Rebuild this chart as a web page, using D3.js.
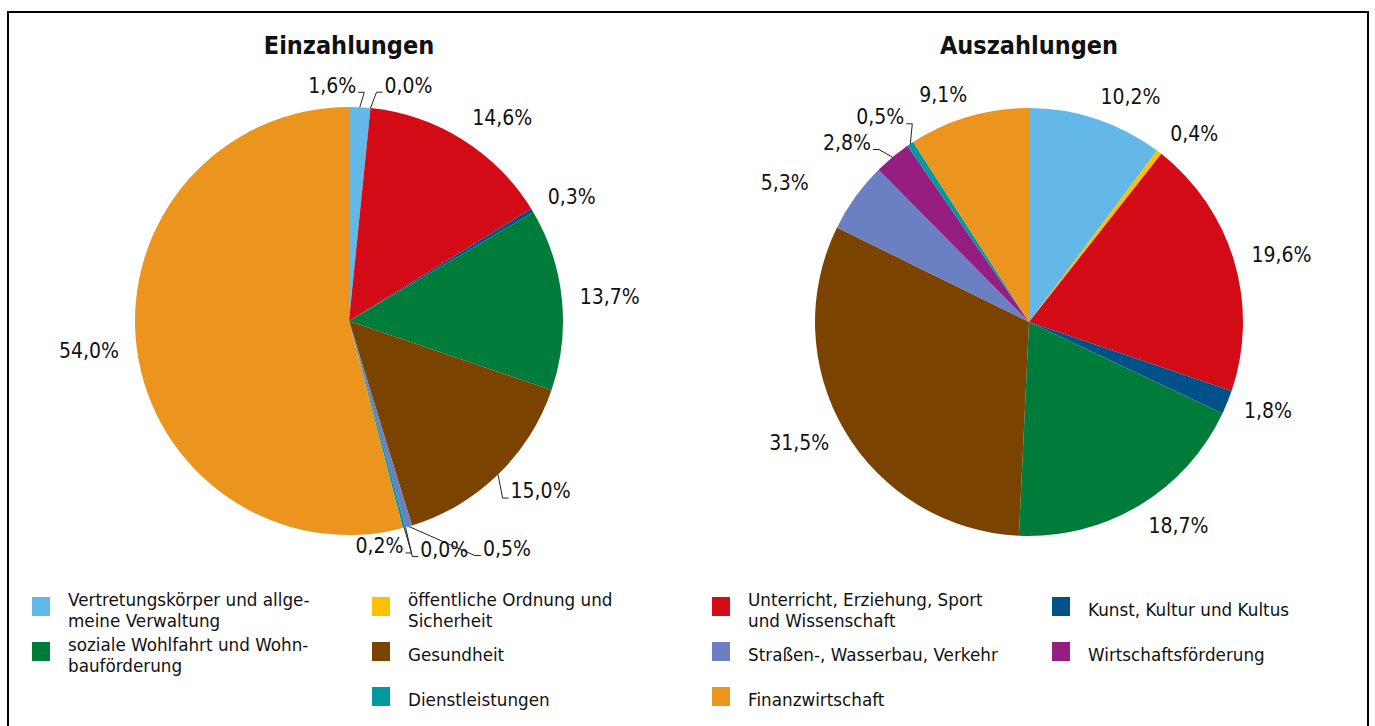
<!DOCTYPE html>
<html>
<head>
<meta charset="utf-8">
<script src="https://cdn.jsdelivr.net/npm/d3@7"></script>
<style>
  body { margin: 0; background: #fff; }
  svg { display: block; }
  .lbl { font-family: 'DejaVu Sans Condensed', 'DejaVu Sans', sans-serif; font-stretch: condensed; font-size: 21px; fill: #111; }
  .ttl { font-family: 'DejaVu Sans Condensed', 'DejaVu Sans', sans-serif; font-stretch: condensed; font-weight: bold; font-size: 25px; fill: #111; }
  .leg { font-family: 'DejaVu Sans', sans-serif; font-size: 16.8px; fill: #111; }
  .leader { fill: none; stroke: #222; stroke-width: 1; }
</style>
</head>
<body>
<svg id="chart" width="1375" height="726"></svg>
<script>
;(function () {
  // categories, clockwise from 12 o'clock (\n = line break in legend)
  var categories = [
    'Vertretungskörper und allge-\nmeine Verwaltung',
    'öffentliche Ordnung und\nSicherheit',
    'Unterricht, Erziehung, Sport\nund Wissenschaft',
    'Kunst, Kultur und Kultus',
    'soziale Wohlfahrt und Wohn-\nbauförderung',
    'Gesundheit',
    'Straßen-, Wasserbau, Verkehr',
    'Wirtschaftsförderung',
    'Dienstleistungen',
    'Finanzwirtschaft'
  ]
  var einzahlungen = [1.6, 0.0, 14.6, 0.3, 13.7, 15.0, 0.5, 0.0, 0.2, 54.0]
  var auszahlungen = [10.2, 0.4, 19.6, 1.8, 18.7, 31.5, 5.3, 2.8, 0.5, 9.1]
  var colors = ['#63b8e8', '#ffc000', '#d20b16', '#005189', '#007c3a',
                '#7a4400', '#6b80c2', '#941e81', '#0099a0', '#ec951e']

  // label nudges (px) and which labels get a leader line
  var einShift = {0: [-32, 1], 1: [29, 0], 2: [0, -3], 3: [0, -2], 6: [73, 0], 7: [15, 0], 8: [-48, -4]}
  var ausShift = {6: [-32, -1], 7: [-10, 3], 8: [4, -8]}
  var einLeader = [0, 1, 5, 6, 7, 8]
  var ausLeader = [7, 8]

  var svg = d3.select('#chart')
  var radius = 214
  var fmt = function (v) { return d3.format('.1f')(v).replace('.', ',') + '%' }

  svg.append('rect')
      .attr('x', 8).attr('y', 12)
      .attr('width', 1360).attr('height', 740)
      .attr('fill', 'none')
      .attr('stroke', '#000')
      .attr('stroke-width', 2)

  function drawPie (title, values, cx, cy, shift, leaders) {
    var g = svg.append('g').attr('transform', `translate(${cx},${cy})`)

    g.append('text')
        .attr('class', 'ttl')
        .attr('x', 0).attr('y', 45 - cy)
        .attr('dy', '0.35em')
        .attr('text-anchor', 'middle')
        .text(title)

    var pie = d3.pie().sort(null).value(d => d)
    var arcs = pie(values)
    var arc = d3.arc().innerRadius(0).outerRadius(radius)

    g.selectAll('path.slice')
        .data(arcs)
        .enter().append('path')
        .attr('class', 'slice')
        .attr('d', arc)
        .attr('fill', (d, i) => colors[i])

    arcs.forEach(function (d, i) {
      var a = (d.startAngle + d.endAngle) / 2
      var s = Math.sin(a), c = Math.cos(a)
      var pr = radius + 18
      var t = g.append('text')
          .attr('class', 'lbl')
          .attr('text-anchor', 'middle')
          .attr('dy', '0.35em')
          .text(fmt(d.data))
      var w = t.node().getBBox().width
      var k = Math.max(-1, Math.min(1, s * 3))
      var lx = pr * s + (w / 2) * k
      var ly = -pr * c - 5 * c
      if (shift[i]) { lx += shift[i][0]; ly += shift[i][1] }
      t.attr('x', lx).attr('y', ly)

      if (leaders.indexOf(i) >= 0) {
        var ax = radius * s, ay = -radius * c
        var right = lx > ax
        var ex = right ? lx - w / 2 - 2 : lx + w / 2 + 2
        var ey = ly + 7
        var bx = right ? ex - 6 : ex + 6
        g.append('path')
            .attr('class', 'leader')
            .attr('d', d3.line()([[ax, ay], [bx, ey], [ex, ey]]))
      }
    })
  }

  drawPie('Einzahlungen', einzahlungen, 349, 321, einShift, einLeader)
  drawPie('Auszahlungen', auszahlungen, 1029, 322, ausShift, ausLeader)

  // legend: 4 columns, last row centred
  var legend = svg.append('g')
  var rows = [[0, 1, 2, 3], [4, 5, 6, 7], [8, 9]]
  rows.forEach(function (row, r) {
    var off = (4 - row.length) / 2
    row.forEach(function (ci, j) {
      var x = 32 + (j + off) * 340
      var y = 597 + r * 45
      legend.append('rect')
          .attr('x', x).attr('y', y)
          .attr('width', 18).attr('height', 19)
          .attr('fill', colors[ci])
      var lines = categories[ci].split('\n')
      var t = legend.append('text')
          .attr('class', 'leg')
          .attr('x', x + 36)
      var y0 = lines.length > 1 ? y + 3 : y + 13.5
      lines.forEach(function (ln, k) {
        t.append('tspan')
            .attr('x', x + 36)
            .attr('y', y0 + k * 21)
            .attr('dy', '0.35em')
            .text(ln)
      })
    })
  })
})()
</script>
</body>
</html>
